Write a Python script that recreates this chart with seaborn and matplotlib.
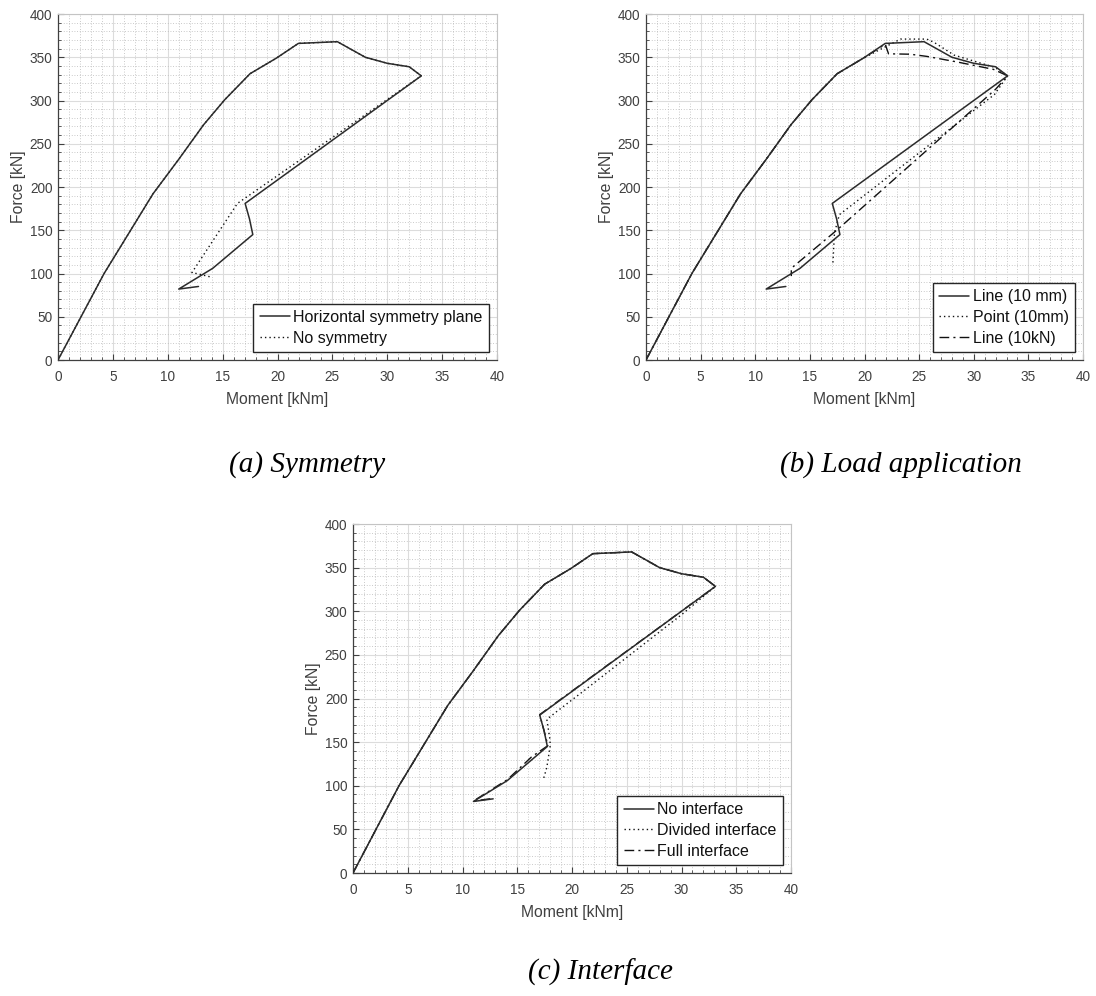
import matplotlib
matplotlib.use("Agg")
import matplotlib.pyplot as plt
from matplotlib.ticker import MultipleLocator
import pandas as pd
import seaborn as sns

# Common loading branch (Moment [kNm], Force [kN])
loading_moment = [0.0, 4.2, 8.65, 11.0, 13.27, 15.2, 17.5, 19.9]
loading_force = [0.0, 100.0, 192.0, 232.0, 272.0, 301.0, 331.0, 349.0]

# Reference model: peak region and unloading branch
ref_top_moment = [21.9, 25.45, 28.0, 30.0, 32.0, 33.1]
ref_top_force = [366.0, 368.0, 350.0, 343.0, 339.0, 328.5]
ref_unload_moment = [17.05, 17.45, 17.75, 14.1, 11.0, 12.8]
ref_unload_force = [181.0, 163.0, 145.0, 106.0, 82.0, 85.0]

# (a) model without symmetry plane
nosym_unload_moment = [16.35, 12.2, 12.8, 13.9]
nosym_unload_force = [181.0, 101.0, 99.5, 96.0]

# (b) point load, 10 mm
point_tail_moment = [21.9, 23.3, 25.7, 26.4, 28.2, 32.0, 33.1, 31.9, 17.7, 17.25, 17.1]
point_tail_force = [362.0, 371.0, 371.0, 367.0, 352.5, 338.0, 328.5, 307.0, 168.0, 147.0, 110.0]

# (b) line load, 10 kN
line10kn_tail_moment = [21.9, 22.2, 24.2, 25.7, 28.5, 31.8, 33.1, 32.0, 17.5, 13.3, 13.3]
line10kn_tail_force = [365.0, 354.0, 353.5, 351.0, 344.5, 336.0, 328.5, 313.0, 150.5, 106.0, 97.0]

# (c) divided interface
divided_unload_moment = [30.0, 21.0, 18.6, 17.7, 18.0, 18.0, 17.7, 17.4]
divided_unload_force = [296.0, 208.0, 185.0, 176.0, 152.0, 145.0, 121.0, 108.0]

# (c) full interface
full_unload_moment = [17.05, 17.45, 17.8, 16.3, 14.1, 11.0, 12.8]
full_unload_force = [181.5, 163.0, 146.0, 133.0, 107.0, 82.5, 85.5]

panel_captions = ["(a) Symmetry", "(b) Load application", "(c) Interface"]


def series(moment, force):
    return pd.DataFrame({"Moment": moment, "Force": force})


reference = series(loading_moment + ref_top_moment + ref_unload_moment,
                   loading_force + ref_top_force + ref_unload_force)
no_symmetry = series(loading_moment + ref_top_moment + nosym_unload_moment,
                     loading_force + ref_top_force + nosym_unload_force)
point_load = series(loading_moment + point_tail_moment,
                    loading_force + point_tail_force)
line_10kn = series(loading_moment + line10kn_tail_moment,
                   loading_force + line10kn_tail_force)
divided = series(loading_moment + ref_top_moment + divided_unload_moment,
                 loading_force + ref_top_force + divided_unload_force)
full = series(loading_moment + ref_top_moment + full_unload_moment,
              loading_force + ref_top_force + full_unload_force)

sns.set_theme(style="white")
plt.rcParams["font.family"] = ["Liberation Sans", "DejaVu Sans"]

W, H = 1096, 996
fig = plt.figure(figsize=(W / 100, H / 100), dpi=100)
fig.patch.set_facecolor("white")


def make_axes(left, top, right, bottom):
    return fig.add_axes([left / W, 1 - bottom / H, (right - left) / W, (bottom - top) / H])


ax_a = make_axes(58, 14, 497, 360)
ax_b = make_axes(646, 14, 1083, 360)
ax_c = make_axes(353, 524, 791, 873)

LINE = "#2b2b2b"
SOLID = dict(color=LINE, linewidth=1.1, linestyle="-")
DOTTED = dict(color="#111111", linewidth=1.0, linestyle=(0, (1, 2.2)))
DASHDOT = dict(color="#111111", linewidth=1.0, linestyle=(0, (7, 3, 1.5, 3)))


def draw(ax, df, label, style, z):
    sns.lineplot(data=df, x="Moment", y="Force", sort=False, estimator=None,
                 ax=ax, label=label, zorder=z, **style)


draw(ax_a, reference, "Horizontal symmetry plane", SOLID, 4)
draw(ax_a, no_symmetry, "No symmetry", DOTTED, 3)

draw(ax_b, reference, "Line (10 mm)", SOLID, 4)
draw(ax_b, point_load, "Point (10mm)", DOTTED, 3)
draw(ax_b, line_10kn, "Line (10kN)", DASHDOT, 3)

draw(ax_c, reference, "No interface", SOLID, 4)
draw(ax_c, divided, "Divided interface", DOTTED, 3)
draw(ax_c, full, "Full interface", DASHDOT, 3)

for ax in (ax_a, ax_b, ax_c):
    ax.set_xlim(0, 40)
    ax.set_ylim(0, 400)
    ax.xaxis.set_major_locator(MultipleLocator(5))
    ax.xaxis.set_minor_locator(MultipleLocator(1))
    ax.yaxis.set_major_locator(MultipleLocator(50))
    ax.yaxis.set_minor_locator(MultipleLocator(10))
    ax.grid(which="major", color="#dcdcdc", linewidth=0.8, linestyle="-")
    ax.grid(which="minor", color="#b8b8b8", linewidth=0.6, linestyle=(0, (1, 2.2)))
    ax.set_axisbelow(True)
    ax.tick_params(which="both", direction="in", colors="#404040",
                   labelsize=9.8, top=False, right=False, bottom=True, left=True)
    ax.tick_params(which="major", length=4, width=0.8)
    ax.tick_params(which="minor", length=2, width=0.6)
    ax.tick_params(axis="x", pad=7)
    ax.tick_params(axis="y", pad=4)
    for side in ("left", "bottom"):
        ax.spines[side].set_color("#404040")
        ax.spines[side].set_linewidth(0.9)
    for side in ("top", "right"):
        ax.spines[side].set_color("#c4c4c4")
        ax.spines[side].set_linewidth(0.8)
    ax.set_xlabel("Moment [kNm]", fontsize=11.3, color="#404040", labelpad=6)
    ax.set_ylabel("Force [kN]", fontsize=11.3, color="#404040", labelpad=3)
    leg = ax.legend(loc="lower right", fontsize=11.5, frameon=True, fancybox=False,
                    framealpha=1, edgecolor="#262626", borderpad=0.4,
                    labelspacing=0.35, handlelength=1.9, handletextpad=0.2,
                    borderaxespad=0.5)
    leg.get_frame().set_linewidth(1.0)
    for t in leg.get_texts():
        t.set_color("#111111")

cap_font = dict(family=["Liberation Serif", "DejaVu Serif"], style="italic",
                fontsize=21, ha="center", va="center", color="black")
fig.text(307 / W, 1 - 465 / H, panel_captions[0], **cap_font)
fig.text(901 / W, 1 - 465 / H, panel_captions[1], **cap_font)
fig.text(600 / W, 1 - 972 / H, panel_captions[2], **cap_font)

fig.savefig("out.png", dpi=100, facecolor="white")
